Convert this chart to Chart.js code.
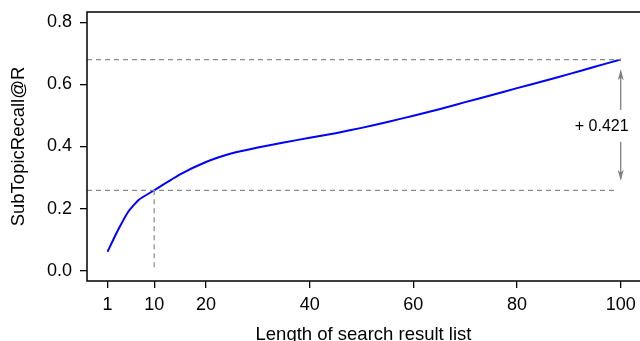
<!DOCTYPE html>
<html>
<head>
<meta charset="utf-8">
<script src="https://cdn.jsdelivr.net/npm/chart.js@4"></script>
<style>
  html, body { margin: 0; padding: 0; background: #fff; }
  #wrap { width: 640px; height: 341px; }
</style>
</head>
<body>
<div id="wrap"><canvas id="recallChart"></canvas></div>
<script>
// data
const listLength = [1, 3, 5, 7, 10, 15, 20, 25, 30, 35, 40, 45, 50, 55, 60, 65, 70, 75, 80, 85, 90, 95, 100];
const recall = [0.061, 0.130, 0.190, 0.228, 0.259, 0.310, 0.350, 0.378, 0.397, 0.413, 0.428, 0.443, 0.460, 0.479, 0.499, 0.520, 0.543, 0.565, 0.588, 0.610, 0.633, 0.657, 0.680];
const xTicks = [1, 10, 20, 40, 60, 80, 100];
const yTicks = [0.0, 0.2, 0.4, 0.6, 0.8];
const refLevels = [0.680, 0.259];
const refX = 10;
const arrowX = 100;
const arrowEnds = [0.649, 0.290];
const gainText = "+ 0.421";

const FONT = "'Liberation Sans', Arial, Helvetica, sans-serif";

const rPlotExtras = {
  id: "rPlotExtras",
  afterDatasetsDraw(chart) {
    const ctx = chart.ctx;
    const x = chart.scales.x, y = chart.scales.y;
    const a = chart.chartArea;
    ctx.save();
    // dashed reference lines
    ctx.strokeStyle = "#8a8a8a";
    ctx.lineWidth = 1.2;
    ctx.setLineDash([5, 4]);
    ctx.beginPath();
    ctx.moveTo(a.left, y.getPixelForValue(refLevels[0]));
    ctx.lineTo(x.getPixelForValue(arrowX), y.getPixelForValue(refLevels[0]));
    ctx.moveTo(a.left, y.getPixelForValue(refLevels[1]));
    ctx.lineTo(x.getPixelForValue(arrowX - 1), y.getPixelForValue(refLevels[1]));
    ctx.moveTo(x.getPixelForValue(refX), y.getPixelForValue(refLevels[1]));
    ctx.lineTo(x.getPixelForValue(refX), y.getPixelForValue(0));
    ctx.stroke();
    ctx.setLineDash([]);

    // double arrow with label gap
    const ax = x.getPixelForValue(arrowX);
    const yTop = y.getPixelForValue(arrowEnds[0]);
    const yBot = y.getPixelForValue(arrowEnds[1]);
    const yMid = (yTop + yBot) / 2 + 1;
    ctx.strokeStyle = "#808080";
    ctx.fillStyle = "#808080";
    ctx.lineWidth = 1.3;
    ctx.beginPath();
    ctx.moveTo(ax, yTop + 2);
    ctx.lineTo(ax, yMid - 16);
    ctx.moveTo(ax, yMid + 16);
    ctx.lineTo(ax, yBot - 2);
    ctx.stroke();
    function head(tipY, dir) {
      ctx.beginPath();
      ctx.moveTo(ax, tipY);
      ctx.lineTo(ax - 3, tipY + dir * 11);
      ctx.lineTo(ax, tipY + dir * 8);
      ctx.lineTo(ax + 3, tipY + dir * 11);
      ctx.closePath();
      ctx.fill();
    }
    head(yTop, 1);
    head(yBot, -1);

    ctx.fillStyle = "#000";
    ctx.font = "16px " + FONT;
    ctx.textAlign = "center";
    ctx.textBaseline = "middle";
    ctx.fillText(gainText, ax - 19, yMid + 1);

    // box around the plot region
    ctx.strokeStyle = "#000";
    ctx.lineWidth = 1.5;
    ctx.strokeRect(a.left, a.top, a.right - a.left + 2, a.bottom - a.top);
    ctx.restore();
  }
};

const ctx = document.getElementById("recallChart").getContext("2d");
new Chart(ctx, {
  type: "line",
  data: {
    datasets: [{
      data: listLength.map((v, i) => ({ x: v, y: recall[i] })),
      borderColor: "#0000ff",
      borderWidth: 2,
      pointRadius: 0,
      tension: 0.15,
      fill: false
    }]
  },
  options: {
    responsive: true,
    maintainAspectRatio: false,
    animation: false,
    layout: { padding: { top: 12, left: 0, right: 0, bottom: 0 } },
    plugins: { legend: { display: false }, tooltip: { enabled: false } },
    scales: {
      x: {
        type: "linear",
        min: -2.96,
        max: 103.72,
        afterBuildTicks(s) { s.ticks = xTicks.map(v => ({ value: v })); },
        afterFit(s) { s.height = 60; s.paddingLeft = 0; s.paddingRight = 0; },
        border: { display: false },
        grid: { drawOnChartArea: false, drawTicks: true, tickLength: 7, tickColor: "#000", lineWidth: 1.3 },
        ticks: { color: "#000", padding: 6, maxRotation: 0, autoSkip: false, font: { family: FONT, size: 18 } },
        title: { display: true, text: "Length of search result list", color: "#000", padding: { top: 0, bottom: -5 }, font: { family: FONT, size: 18.5 } }
      },
      y: {
        type: "linear",
        min: -0.0332,
        max: 0.8332,
        afterBuildTicks(s) { s.ticks = yTicks.map(v => ({ value: v })); },
        afterFit(s) { s.width = 87; s.paddingTop = 0; s.paddingBottom = 0; },
        border: { display: false },
        grid: { drawOnChartArea: false, drawTicks: true, tickLength: 7, tickColor: "#000", lineWidth: 1.3 },
        ticks: { color: "#000", padding: 8, font: { family: FONT, size: 18 }, callback: v => v.toFixed(1) },
        title: { display: true, text: "SubTopicRecall@R", color: "#000", padding: { top: 7.5, bottom: 0 }, font: { family: FONT, size: 18.5 } }
      }
    }
  },
  plugins: [rPlotExtras]
});
</script>
</body>
</html>
